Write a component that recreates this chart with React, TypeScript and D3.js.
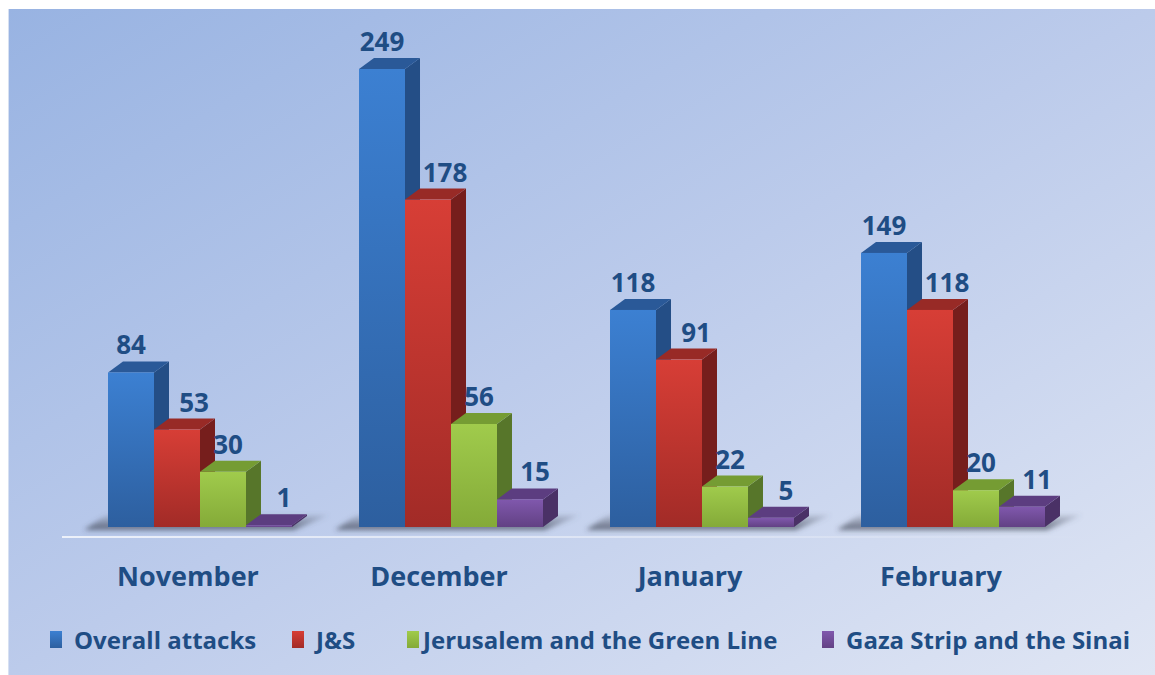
import React from "react";
import { scaleBand, scaleLinear } from "d3";

const months = ["November", "December", "January", "February"];
const seriesNames = ["Overall attacks", "J&S", "Jerusalem and the Green Line", "Gaza Strip and the Sinai"];
const overall = [84, 249, 118, 149];
const js = [53, 178, 91, 118];
const jerusalem = [30, 56, 22, 20];
const gaza = [1, 15, 5, 11];
const seriesValues = [overall, js, jerusalem, gaza];

// front gradient top/bottom, side, top face
const palette = [
  { a: "#3c80d2", b: "#2d5f9f", side: "#244e86", top: "#2a5998" },
  { a: "#d73e36", b: "#a22b27", side: "#761e1c", top: "#982a26" },
  { a: "#a0cb4c", b: "#84aa38", side: "#57762a", top: "#759c33" },
  { a: "#8058ad", b: "#624184", side: "#4a3166", top: "#5c3d80" },
];
// label nudges per series (Excel places them a bit off centre)
const labelShift = [0, 17, 5, 15];

const W = 1155;
const H = 675;
const DX = 15;
const DY = -11;
const textColor = "#1f4d84";
const font = "'Open Sans', 'Noto Sans', sans-serif";

export default function App() {
  const x0 = scaleBand().domain(months).range([74.5, 1078.5]).paddingInner(0.267).paddingOuter(0.1335);
  const x1 = scaleBand().domain(seriesNames).range([0, x0.bandwidth()]);
  const y = scaleLinear().domain([0, 249]).range([527, 69]);
  const base = y(0);
  const bw = x1.bandwidth();
  const legendX = [50, 292, 407, 822];

  return (
    <svg width={W} height={H} style={{ position: "absolute", left: 0, top: 0 }}>
      <defs>
        <linearGradient id="bg" x1="0" y1="0" x2="1" y2="1">
          <stop offset="0" stopColor="#98b3e2" />
          <stop offset="0.5" stopColor="#bccbeb" />
          <stop offset="1" stopColor="#e0e6f4" />
        </linearGradient>
        {palette.map((p, i) => (
          <linearGradient key={i} id={`g${i}`} x1="0" y1="0" x2="0" y2="1">
            <stop offset="0" stopColor={p.a} />
            <stop offset="1" stopColor={p.b} />
          </linearGradient>
        ))}
        <linearGradient id="shadow" x1="0" y1="0" x2="0" y2="1">
          <stop offset="0" stopColor="#5a6070" stopOpacity="0.15" />
          <stop offset="1" stopColor="#3a4050" stopOpacity="0.75" />
        </linearGradient>
        <filter id="blur" x="-20%" y="-50%" width="140%" height="200%">
          <feGaussianBlur stdDeviation="2.5" />
        </filter>
        <linearGradient id="floorLine" x1="0" y1="0" x2="1" y2="0">
          <stop offset="0" stopColor="#ffffff" stopOpacity="0.75" />
          <stop offset="0.6" stopColor="#ffffff" stopOpacity="0.35" />
          <stop offset="1" stopColor="#ffffff" stopOpacity="0" />
        </linearGradient>
      </defs>
      <rect x={8} y={9} width={W - 8} height={H - 9} fill="url(#bg)" />
      <line x1={8.5} x2={8.5} y1={9} y2={H} stroke="#d6e0f2" strokeWidth={1} />

      <rect x={62} y={536} width={1030} height={2} fill="url(#floorLine)" />

      {months.map((m, i) => {
        const gx = x0(m) as number;
        const gw = x0.bandwidth();
        return (
          <g key={m}>
            <polygon
              points={`${gx - 24},${base + 3} ${gx + gw + 2},${base + 3} ${gx + gw + DX + 22},${base + DY - 1} ${gx - 2},${base + DY - 1}`}
              fill="url(#shadow)"
              filter="url(#blur)"
            />
            {seriesNames.map((s, j) => {
              const v = seriesValues[j][i];
              const bx = gx + (x1(s) as number);
              const ty = y(v);
              const p = palette[j];
              return (
                <g key={s}>
                  <polygon
                    points={`${bx + bw},${ty} ${bx + bw + DX},${ty + DY} ${bx + bw + DX},${base + DY} ${bx + bw},${base}`}
                    fill={p.side}
                  />
                  <polygon
                    points={`${bx},${ty} ${bx + DX},${ty + DY} ${bx + bw + DX},${ty + DY} ${bx + bw},${ty}`}
                    fill={p.top}
                  />
                  <rect x={bx} y={ty} width={bw} height={base - ty} fill={`url(#g${j})`} />
                </g>
              );
            })}
            {seriesNames.map((s, j) => {
              const v = seriesValues[j][i];
              const bx = gx + (x1(s) as number);
              return (
                <text
                  key={`l${s}`}
                  x={bx + bw / 2 + labelShift[j]}
                  y={y(v) + DY - 7}
                  textAnchor="middle"
                  fontFamily={font}
                  fontWeight="bold"
                  fontSize={26}
                  fill={textColor}
                >
                  {v}
                </text>
              );
            })}
            <text
              x={gx + gw / 2 - 12}
              y={586}
              textAnchor="middle"
              fontFamily={font}
              fontWeight="bold"
              fontSize={27}
              fill={textColor}
            >
              {m}
            </text>
          </g>
        );
      })}

      {seriesNames.map((s, j) => (
        <g key={s} transform={`translate(${legendX[j]},0)`}>
          <rect x={0} y={631} width={12} height={17} fill={`url(#g${j})`} />
          <text x={24 - (j === 2 ? 8 : 0)} y={649} fontFamily={font} fontWeight="bold" fontSize={24} fill={textColor}>
            {s}
          </text>
        </g>
      ))}
    </svg>
  );
}
